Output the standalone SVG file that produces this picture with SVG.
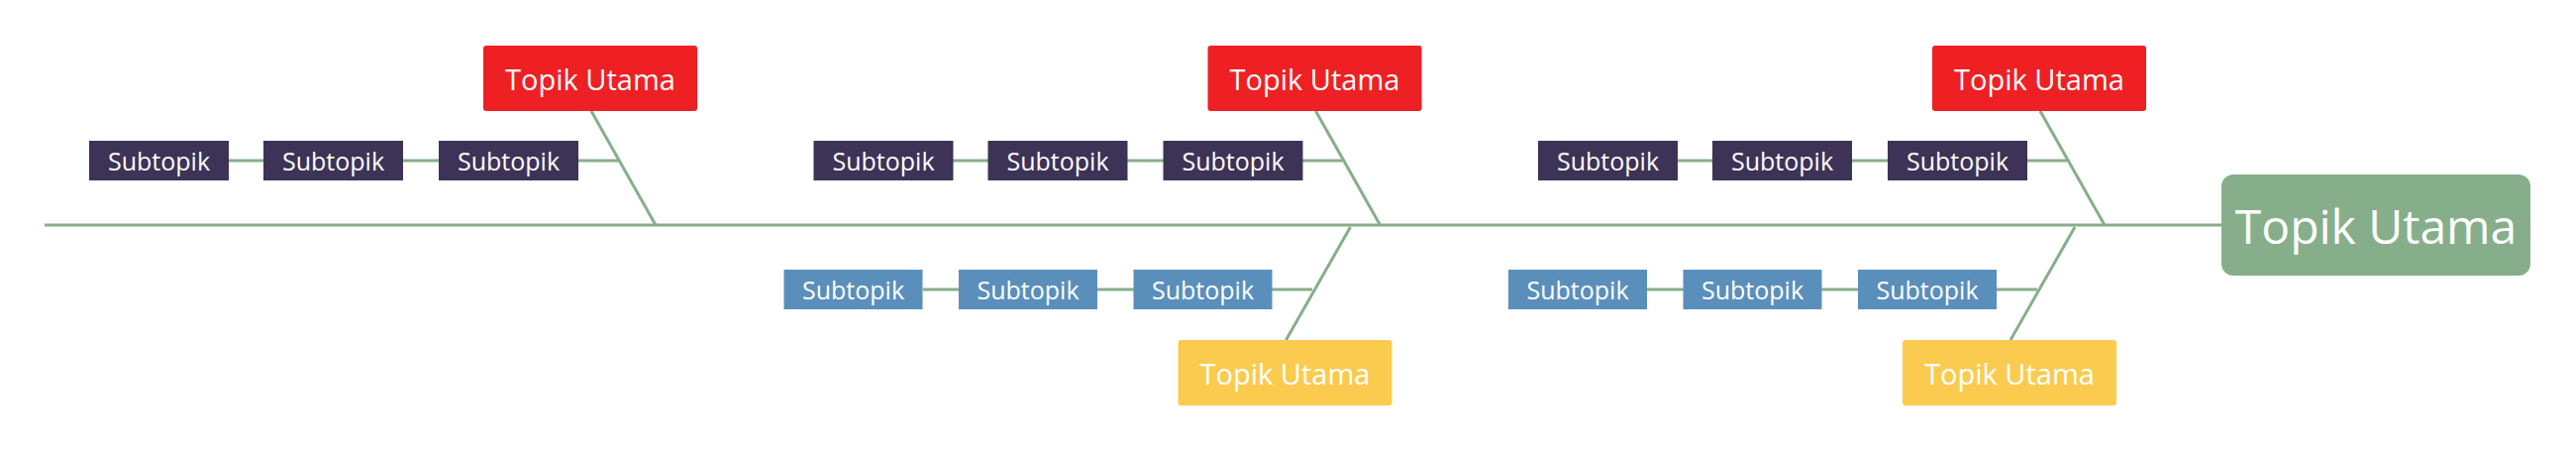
<svg xmlns="http://www.w3.org/2000/svg" width="2601" height="465" viewBox="0 0 2601 465">
<style>
.ln{stroke:#87AE8B;stroke-width:3;fill:none}
.t{font-family:"Open Sans","Noto Sans",sans-serif;fill:#fff;text-anchor:middle;dominant-baseline:central}
.s{font-size:25px}.m{font-size:29px}.c{font-size:48px}
.dk{fill:#3D3356}.bl{fill:#5B8FBB}.rd{fill:#EE2024}.yl{fill:#FBCB50}
</style>
<rect width="2601" height="465" fill="#fff"/>
<g id="connectors">
<line class="ln" x1="45" y1="227" x2="2243" y2="227"/>
<line class="ln" x1="597" y1="112" x2="662" y2="227"/>
<line class="ln" x1="230" y1="162" x2="624" y2="162"/>
<line class="ln" x1="1328.5" y1="112" x2="1393.5" y2="227"/>
<line class="ln" x1="961.5" y1="162" x2="1355.5" y2="162"/>
<line class="ln" x1="2060" y1="112" x2="2125" y2="227"/>
<line class="ln" x1="1694" y1="162" x2="2087" y2="162"/>
<line class="ln" x1="1363.5" y1="229" x2="1298.5" y2="343"/>
<line class="ln" x1="932" y1="292" x2="1325" y2="292"/>
<line class="ln" x1="2095" y1="229" x2="2030" y2="343"/>
<line class="ln" x1="1663" y1="292" x2="2057" y2="292"/>
</g>
<g id="center"><rect x="2243" y="176" width="312" height="102" rx="12" fill="#87AE8B"/><text class="t c" x="2399" y="227">Topik Utama</text></g>
<g id="main1"><rect class="rd" x="488" y="46" width="216" height="66" rx="3"/><text class="t m" x="596" y="79">Topik Utama</text></g>
<g id="main2"><rect class="rd" x="1219.5" y="46" width="216" height="66" rx="3"/><text class="t m" x="1327.5" y="79">Topik Utama</text></g>
<g id="main3"><rect class="rd" x="1951" y="46" width="216" height="66" rx="3"/><text class="t m" x="2059" y="79">Topik Utama</text></g>
<g id="main4"><rect class="yl" x="1189.5" y="343" width="216" height="66" rx="3"/><text class="t m" x="1297.5" y="376">Topik Utama</text></g>
<g id="main5"><rect class="yl" x="1921" y="343" width="216" height="66" rx="3"/><text class="t m" x="2029" y="376">Topik Utama</text></g>
<g id="s1a"><rect class="dk" x="90" y="142" width="141" height="40"/><text class="t s" x="160.5" y="162">Subtopik</text></g>
<g id="s1b"><rect class="dk" x="266" y="142" width="141" height="40"/><text class="t s" x="336.5" y="162">Subtopik</text></g>
<g id="s1c"><rect class="dk" x="443" y="142" width="141" height="40"/><text class="t s" x="513.5" y="162">Subtopik</text></g>
<g id="s2a"><rect class="dk" x="821.5" y="142" width="141" height="40"/><text class="t s" x="892" y="162">Subtopik</text></g>
<g id="s2b"><rect class="dk" x="997.5" y="142" width="141" height="40"/><text class="t s" x="1068" y="162">Subtopik</text></g>
<g id="s2c"><rect class="dk" x="1174.5" y="142" width="141" height="40"/><text class="t s" x="1245" y="162">Subtopik</text></g>
<g id="s3a"><rect class="dk" x="1553" y="142" width="141" height="40"/><text class="t s" x="1623.5" y="162">Subtopik</text></g>
<g id="s3b"><rect class="dk" x="1729" y="142" width="141" height="40"/><text class="t s" x="1799.5" y="162">Subtopik</text></g>
<g id="s3c"><rect class="dk" x="1906" y="142" width="141" height="40"/><text class="t s" x="1976.5" y="162">Subtopik</text></g>
<g id="b2a"><rect class="bl" x="791.5" y="272" width="140" height="40"/><text class="t s" x="861.5" y="292">Subtopik</text></g>
<g id="b2b"><rect class="bl" x="968" y="272" width="140" height="40"/><text class="t s" x="1038" y="292">Subtopik</text></g>
<g id="b2c"><rect class="bl" x="1144.5" y="272" width="140" height="40"/><text class="t s" x="1214.5" y="292">Subtopik</text></g>
<g id="b3a"><rect class="bl" x="1523" y="272" width="140" height="40"/><text class="t s" x="1593" y="292">Subtopik</text></g>
<g id="b3b"><rect class="bl" x="1699.5" y="272" width="140" height="40"/><text class="t s" x="1769.5" y="292">Subtopik</text></g>
<g id="b3c"><rect class="bl" x="1876" y="272" width="140" height="40"/><text class="t s" x="1946" y="292">Subtopik</text></g>
</svg>
